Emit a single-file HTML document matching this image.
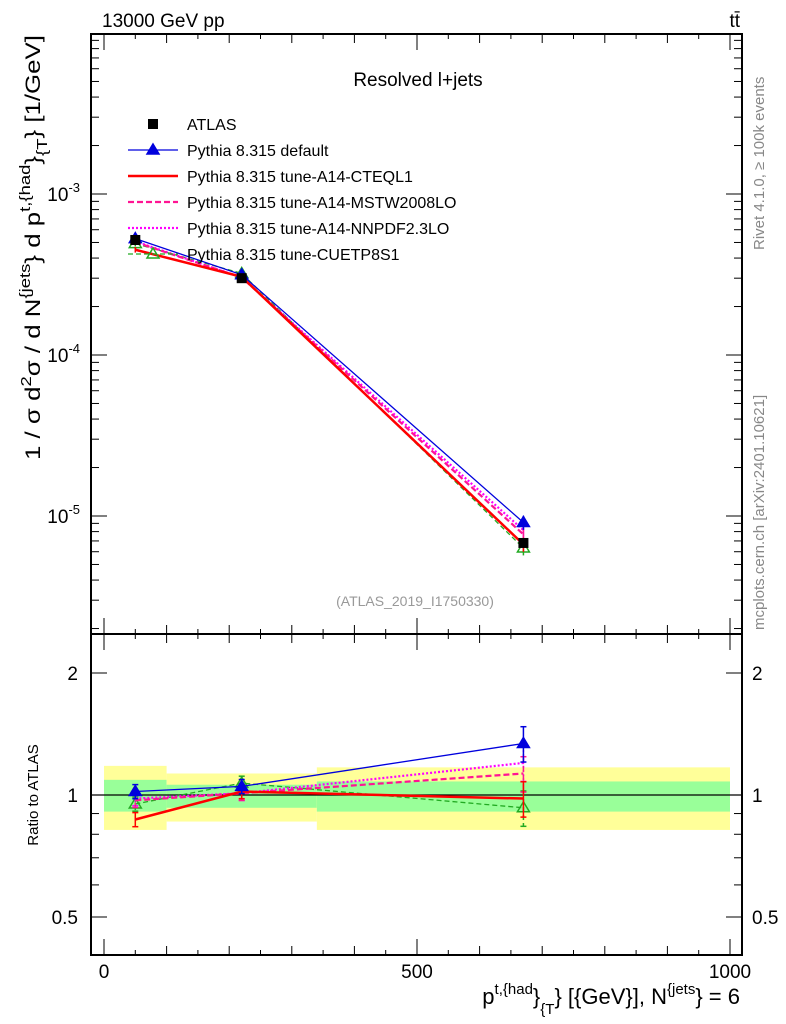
<!DOCTYPE html>
<html><head><meta charset="utf-8">
<style>
html,body{margin:0;padding:0;background:#fff;}
svg{display:block;font-family:"Liberation Sans",sans-serif;}
</style></head>
<body>
<svg id="chart" width="786" height="1024" viewBox="0 0 786 1024" xmlns="http://www.w3.org/2000/svg">
<g id="bands"></g>
<g id="marks"></g>
<g id="axes"></g>
<text x="102" y="27" font-size="19">13000 GeV pp</text>
<text x="740" y="27" font-size="19" text-anchor="end">tt̄</text>
<text x="418" y="86" font-size="19" text-anchor="middle">Resolved l+jets</text>
<text x="415" y="606" font-size="14" fill="#999" text-anchor="middle">(ATLAS_2019_I1750330)</text>
<text transform="translate(764,250) rotate(-90)" font-size="15" fill="#888">Rivet 4.1.0, ≥ 100k events</text>
<text transform="translate(764,630) rotate(-90)" font-size="15" fill="#888">mcplots.cern.ch [arXiv:2401.10621]</text>
<text transform="translate(40,460) rotate(-90)" font-size="21" textLength="425" lengthAdjust="spacingAndGlyphs">1 / σ d<tspan dy="-9" font-size="15">2</tspan><tspan dy="9">σ / d N</tspan><tspan dy="-10" font-size="15">{jets</tspan><tspan dy="10">} d p</tspan><tspan dy="-10" font-size="15">t,{had</tspan><tspan dy="10">}</tspan><tspan dy="7" font-size="15">{T</tspan><tspan dy="-7">} [1/GeV]</tspan></text>
<text transform="translate(38,795) rotate(-90)" font-size="15" text-anchor="middle">Ratio to ATLAS</text>
<text x="740" y="1004" font-size="22" text-anchor="end">p<tspan dy="-10" font-size="15">t,{had</tspan><tspan dy="10">}</tspan><tspan dy="10" font-size="15">{T</tspan><tspan dy="-10">} [{GeV}], N</tspan><tspan dy="-10" font-size="15">{jets</tspan><tspan dy="10">} = 6</tspan></text>
<g id="legend"></g>
</svg>
<script>
const binEdges=[0,100,340,1000];
const xCenters=[50,220,670];
const atlasValues=[5.18e-4,3.0e-4,6.8e-6];
const bandYellowLo=[0.82,0.86,0.82];
const bandYellowHi=[1.18,1.13,1.17];
const bandGreenLo=[0.91,0.93,0.91];
const bandGreenHi=[1.09,1.06,1.08];
const seriesNames=["Pythia 8.315 default","Pythia 8.315 tune-A14-CTEQL1","Pythia 8.315 tune-A14-MSTW2008LO","Pythia 8.315 tune-A14-NNPDF2.3LO","Pythia 8.315 tune-CUETP8S1"];
const ratioDefault=[1.02,1.05,1.34];
const ratioCTEQ=[0.87,1.02,0.98];
const ratioMSTW=[0.97,1.01,1.13];
const ratioNNPDF=[0.98,1.01,1.2];
const ratioCUETP=[0.95,1.07,0.93];
const ratioErr=[0.04,0.04,0.1];
const yTicksMain=[-5,-4,-3];
const yTicksRatio=[0.5,1,2];
const xTicks=[0,500,1000];

const NS="http://www.w3.org/2000/svg";
const L=91,R=742,T=34,MB=634,B=955;
function X(v){return 104+v*0.626;}
function YM(v){return 194-(Math.log10(v)+3)*161;}
function YR(r){return 795-Math.log2(r)*122;}
function mk(tag,at,par){const e=document.createElementNS(NS,tag);for(const k in at)e.setAttribute(k,at[k]);(par||document.getElementById('marks')).appendChild(e);return e;}
const bands=document.getElementById('bands'),axes=document.getElementById('axes'),marks=document.getElementById('marks'),leg=document.getElementById('legend');

for(let i=0;i<3;i++){
  const x0=X(binEdges[i]),x1=X(binEdges[i+1]);
  let r=mk('rect',{x:x0,y:YR(bandYellowHi[i]),width:x1-x0,height:YR(bandYellowLo[i])-YR(bandYellowHi[i]),fill:'#ffff99'},bands);
  
  
  r=mk('rect',{x:x0,y:YR(bandGreenHi[i]),width:x1-x0,height:YR(bandGreenLo[i])-YR(bandGreenHi[i]),fill:'#99ff99'},bands);
  
  
}
mk('line',{x1:L,x2:R,y1:YR(1),y2:YR(1),stroke:'#000','stroke-width':1.2},bands);

mk('rect',{x:L,y:T,width:R-L,height:MB-T,fill:'none',stroke:'#000','stroke-width':2},axes);
mk('rect',{x:L,y:MB,width:R-L,height:B-MB,fill:'none',stroke:'#000','stroke-width':2},axes);
for(let v=0;v<=1000;v+=50){
  const len=v%500===0?16:(v%100===0?9:5);
  for(const [y,d] of [[T,1],[MB,-1],[MB,1],[B,-1]]) mk('line',{x1:X(v),x2:X(v),y1:y,y2:y+d*len,stroke:'#000','stroke-width':1},axes);
}
xTicks.forEach(v=>{const t=mk('text',{x:X(v),y:978,'font-size':19,'text-anchor':'middle'},axes);t.textContent=v;

});
for(let d=-6;d<=-2;d++)for(let m=1;m<10;m++){
  const v=m*Math.pow(10,d),y=YM(v);if(y<T||y>MB)continue;
  const len=m===1?16:8;
  mk('line',{x1:L,x2:L+len,y1:y,y2:y,stroke:'#000'},axes);
  mk('line',{x1:R,x2:R-len,y1:y,y2:y,stroke:'#000'},axes);
}
yTicksMain.forEach(d=>{const t=mk('text',{x:80,y:YM(Math.pow(10,d))+7,'font-size':19,'text-anchor':'end'},axes);
t.innerHTML='10<tspan dy="-9" font-size="13">'+d+'</tspan>';

});
[0.5,0.6,0.7,0.8,0.9,1,2].forEach(v=>{const y=YR(v);const len=(v===0.5||v===1||v===2)?16:8;
  mk('line',{x1:L,x2:L+len,y1:y,y2:y,stroke:'#000'},axes);mk('line',{x1:R,x2:R-len,y1:y,y2:y,stroke:'#000'},axes);});
yTicksRatio.forEach(v=>{for(const [x,a] of [[78,'end'],[752,'start']]){const t=mk('text',{x:x,y:YR(v)+7,'font-size':19,'text-anchor':a},axes);t.textContent=v;

}});

const series=[
 {r:ratioDefault,c:'#0000dd',w:1.3,dash:'',m:'tri',mc:'#0000dd',n:'series-default'},
 {r:ratioCTEQ,c:'#ff0000',w:2.5,dash:'',m:'none',n:'series-cteql1'},
 {r:ratioMSTW,c:'#ff1493',w:2.2,dash:'6,3',m:'none',n:'series-mstw2008lo'},
 {r:ratioNNPDF,c:'#ff00ff',w:2.2,dash:'2,2',m:'none',n:'series-nnpdf23lo'},
 {r:ratioCUETP,c:'#22aa22',w:1.3,dash:'5,3',m:'otri',mc:'#22aa22',n:'series-cuetp8s1'}
];
function tri(x,y,c,filled,par){const p=mk('path',{d:`M${x},${y-6} L${x+6},${y+4} L${x-6},${y+4} Z`,fill:filled?c:'none',stroke:c,'stroke-width':1.5},par);return p;}
series.slice().reverse().forEach(s=>{
  const g=mk('g',{});
  const main=xCenters.map((x,i)=>X(x)+','+YM(atlasValues[i]*s.r[i])).join(' ');
  mk('polyline',{points:main,fill:'none',stroke:s.c,'stroke-width':s.w,'stroke-dasharray':s.dash},g);
  const rat=xCenters.map((x,i)=>X(x)+','+YR(s.r[i])).join(' ');
  mk('polyline',{points:rat,fill:'none',stroke:s.c,'stroke-width':s.w,'stroke-dasharray':s.dash},g);
  xCenters.forEach((x,i)=>{
    const e=ratioErr[i];
    mk('line',{x1:X(x),x2:X(x),y1:YR(s.r[i]*(1+e)),y2:YR(s.r[i]*(1-e)),stroke:s.c,'stroke-width':1.5,'stroke-dasharray':s.dash},g);
    mk('line',{x1:X(x)-3,x2:X(x)+3,y1:YR(s.r[i]*(1+e)),y2:YR(s.r[i]*(1+e)),stroke:s.c,'stroke-width':1.5},g);
    mk('line',{x1:X(x)-3,x2:X(x)+3,y1:YR(s.r[i]*(1-e)),y2:YR(s.r[i]*(1-e)),stroke:s.c,'stroke-width':1.5},g);
    mk('line',{x1:X(x),x2:X(x),y1:YM(atlasValues[i]*s.r[i]*(1+e)),y2:YM(atlasValues[i]*s.r[i]*(1-e)),stroke:s.c,'stroke-width':1.5},g);
    if(s.m!=='none'){tri(X(x),YM(atlasValues[i]*s.r[i]),s.c,s.m==='tri',g);tri(X(x),YR(s.r[i]),s.c,s.m==='tri',g);}
  });
});
xCenters.forEach((x,i)=>{const r=mk('rect',{x:X(x)-5,y:YM(atlasValues[i])-5,width:10,height:10,fill:'#000'});

});
const ly=[124,150,176,202,228,254];
let lr=mk('rect',{x:148,y:ly[0]-5,width:10,height:10,fill:'#000'},leg);
let lt=mk('text',{x:187,y:ly[0]+6,'font-size':16},leg);lt.textContent='ATLAS';


series.forEach((s,i)=>{const y=ly[i+1];
  mk('line',{x1:128,x2:178,y1:y,y2:y,stroke:s.c,'stroke-width':s.w,'stroke-dasharray':s.dash},leg);
  if(s.m!=='none')tri(153,y,s.c,s.m==='tri',leg);
  const t=mk('text',{x:187,y:y+6,'font-size':16},leg);t.textContent=seriesNames[i];
  
  
});
</script>
</body></html>
